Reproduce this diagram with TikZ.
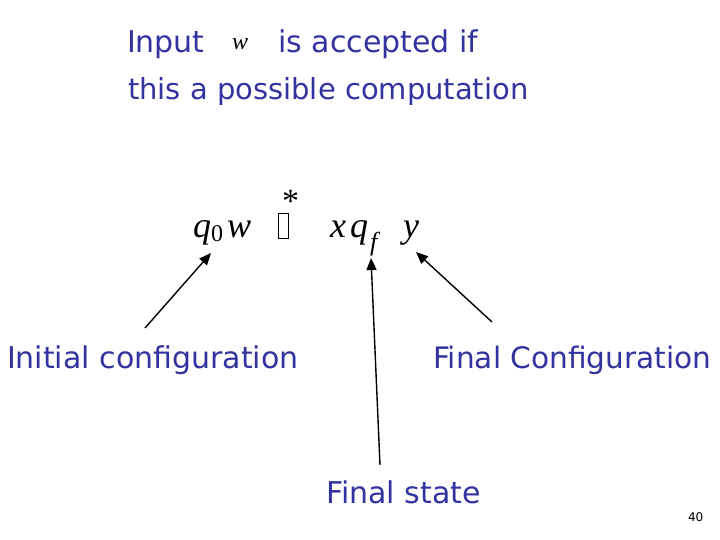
\documentclass[tikz,border=0pt]{standalone}
\usepackage{fontspec}
\setmainfont{DejaVu Sans}
\newfontfamily\serifit{Liberation Serif}
\usetikzlibrary{arrows.meta}
\definecolor{slideblue}{RGB}{50,50,160}
\begin{document}
\begin{tikzpicture}[x=1pt,y=-1pt,
    every node/.style={inner sep=0pt,outer sep=0pt,anchor=base west},
    label/.style={text=slideblue,font=\fontsize{30}{34}\selectfont},
    formula/.style={font=\serifit\itshape\fontsize{36}{40}\selectfont},
    subscr/.style={font=\serifit\fontsize{24}{28}\selectfont},
    pointer/.style={-{Triangle[length=12pt,width=10pt]},line width=1.4pt}]
    \useasboundingbox (0,0) rectangle (720,540);
    % title
    \node[label] (title1) at (127,53) {Input \hspace{64pt}is accepted if};
    \node[formula,font=\serifit\itshape\fontsize{24}{28}\selectfont] (w) at (232,50) {w};
    \node[label,font=\fontsize{29}{34}\selectfont] (title2) at (128,100) {this a possible computation};
    % the computation
    \node[formula] (q0) at (193,237) {q};
    \node[subscr] (zero) at (211,241) {0};
    \node[formula] (wrd) at (227,237) {w};
    \node[draw,line width=0.8pt,minimum width=10pt,minimum height=25pt,anchor=south west] (step) at (278,238) {};
    \node[font=\serifit\fontsize{34}{38}\selectfont] (star) at (282,212) {*};
    \node[formula] (x) at (330,237) {x};
    \node[formula] (qf) at (350,237) {q};
    \node[formula,font=\serifit\itshape\fontsize{26}{30}\selectfont] (f) at (370,251) {f};
    \node[formula] (y) at (403,237) {y};
    \coordinate (startend) at (211,253);
    \coordinate (qfend) at (371,258);
    \coordinate (yend) at (416,252);
    % labels
    \node[label] (initial) at (7,368) {Initial configuration};
    \node[label,font=\fontsize{29.6}{34}\selectfont] (finalconf) at (433,368) {Final Configuration};
    \node[label] (finalstate) at (326,503) {Final state};
    \node[font=\fontsize{12}{14}\selectfont] (page) at (688,521) {40};
    \coordinate (initialtop) at (145,328);
    \coordinate (finalstatetop) at (380,465);
    \coordinate (finalconftop) at (492,322);
    \draw[pointer] (initialtop) -- (startend);
    \draw[pointer] (finalstatetop) -- (qfend);
    \draw[pointer] (finalconftop) -- (yend);
\end{tikzpicture}
\end{document}
